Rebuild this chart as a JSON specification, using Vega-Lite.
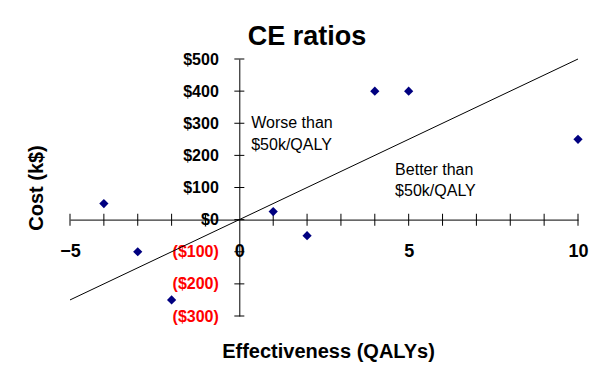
{
  "$schema": "https://vega.github.io/schema/vega-lite/v6.json",
  "autosize": "none",
  "width": 508,
  "height": 257,
  "padding": {"left": 70, "top": 59, "right": 35, "bottom": 62},
  "background": "white",
  "title": {"text": "CE ratios", "font": "Liberation Sans", "fontSize": 27, "fontWeight": "bold", "color": "black", "anchor": "middle", "offset": 0, "dx": -17},
  "config": {"view": {"stroke": null}, "font": "Liberation Sans"},
  "datasets": {
    "points": [
      {"x": -4, "y": 50}, {"x": -3, "y": -100}, {"x": -2, "y": -250},
      {"x": 1, "y": 25}, {"x": 2, "y": -50}, {"x": 4, "y": 400},
      {"x": 5, "y": 400}, {"x": 10, "y": 250}
    ],
    "threshold": [{"x": -5, "y": -250}, {"x": 10, "y": 500}],
    "xticks": [
      {"x": -5, "y": 0}, {"x": -4, "y": 0}, {"x": -3, "y": 0}, {"x": -2, "y": 0}, {"x": -1, "y": 0},
      {"x": 1, "y": 0}, {"x": 2, "y": 0}, {"x": 3, "y": 0}, {"x": 4, "y": 0}, {"x": 5, "y": 0},
      {"x": 6, "y": 0}, {"x": 7, "y": 0}, {"x": 8, "y": 0}, {"x": 9, "y": 0}, {"x": 10, "y": 0}
    ],
    "yticks": [
      {"x": 0, "y": -300}, {"x": 0, "y": -200}, {"x": 0, "y": -100}, {"x": 0, "y": 0},
      {"x": 0, "y": 100}, {"x": 0, "y": 200}, {"x": 0, "y": 300}, {"x": 0, "y": 400}, {"x": 0, "y": 500}
    ],
    "notes": [
      {"x": 0.35, "y": 284, "label": "Worse than"},
      {"x": 0.35, "y": 216, "label": "$50k/QALY"},
      {"x": 4.6, "y": 139, "label": "Better than"},
      {"x": 4.6, "y": 74, "label": "$50k/QALY"}
    ]
  },
  "encoding": {
    "x": {
      "field": "x", "type": "quantitative",
      "scale": {"domain": [-5, 10], "nice": false, "zero": false},
      "axis": {
        "orient": "bottom", "offset": -96.4, "values": [-5, 0, 5, 10],
        "grid": false, "ticks": false, "tickSize": 0,
        "domain": true, "domainColor": "black", "domainWidth": 1,
        "labelFont": "Liberation Sans", "labelFontSize": 18, "labelFontWeight": "bold", "labelColor": "black",
        "labelPadding": 23, "labelFlush": false, "labelOverlap": false, "labelBound": false,
        "title": "Effectiveness (QALYs)", "titleFont": "Liberation Sans", "titleFontSize": 20, "titleFontWeight": "bold", "titleColor": "black",
        "titleX": 258, "titleY": 137.5, "titleAlign": "center", "titleBaseline": "alphabetic", "titleAnchor": null
      }
    },
    "y": {
      "field": "y", "type": "quantitative",
      "scale": {"domain": [-300, 500], "nice": false, "zero": false},
      "axis": {
        "orient": "left", "offset": -169.3, "values": [-300, -200, -100, 0, 100, 200, 300, 400, 500],
        "grid": false, "ticks": false, "tickSize": 0,
        "domain": true, "domainColor": "black", "domainWidth": 1,
        "labelExpr": "datum.value < 0 ? '($' + abs(datum.value) + ')' : '$' + datum.value",
        "labelColor": {"condition": {"test": "datum.value < 0", "value": "#FF0000"}, "value": "black"},
        "labelFont": "Liberation Sans", "labelFontSize": 16, "labelFontWeight": "bold",
        "labelPadding": 21, "labelFlush": false, "labelOverlap": false, "labelBound": false,
        "title": "Cost (k$)", "titleFont": "Liberation Sans", "titleFontSize": 20, "titleFontWeight": "bold", "titleColor": "black",
        "titleX": -197, "titleY": 128.5, "titleAngle": -90, "titleAlign": "center", "titleBaseline": "alphabetic", "titleAnchor": null
      }
    }
  },
  "layer": [
    {"data": {"name": "threshold"}, "mark": {"type": "line", "color": "black", "strokeWidth": 1}},
    {"data": {"name": "xticks"}, "mark": {"type": "tick", "orient": "vertical", "color": "black", "size": 12, "thickness": 1, "opacity": 1}},
    {"data": {"name": "yticks"}, "mark": {"type": "tick", "orient": "horizontal", "color": "black", "size": 10, "thickness": 1, "opacity": 1}},
    {"data": {"name": "points"}, "mark": {"type": "point", "shape": "diamond", "filled": true, "color": "#000080", "size": 85, "opacity": 1}},
    {"data": {"name": "notes"}, "mark": {"type": "text", "align": "left", "baseline": "alphabetic", "font": "Liberation Sans", "fontSize": 16, "color": "black"}, "encoding": {"text": {"field": "label"}}}
  ]
}
